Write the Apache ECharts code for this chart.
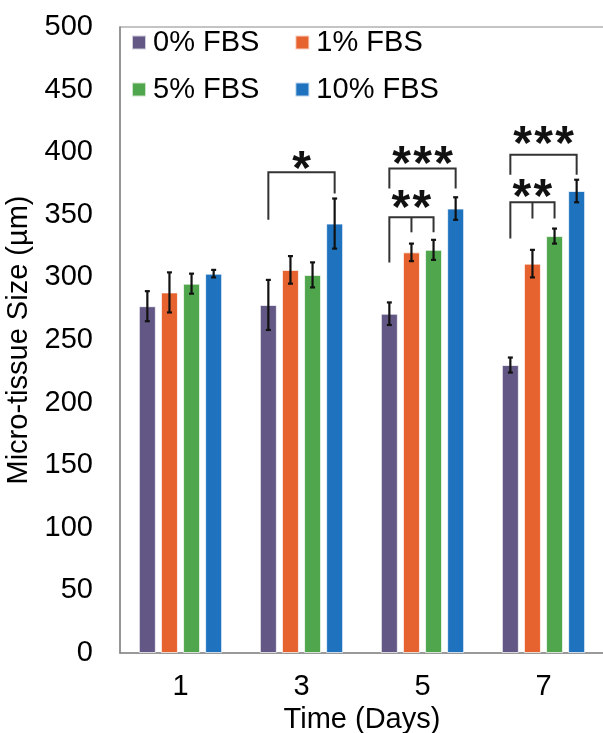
<!DOCTYPE html>
<html>
<head>
<meta charset="utf-8">
<script src="https://cdn.jsdelivr.net/npm/echarts@6/dist/echarts.min.js"></script>
<style>
html,body{margin:0;padding:0;background:#fff;}
#chart{width:603px;height:733px;}
</style>
</head>
<body>
<div id="chart"></div>
<script>
// ---- data ----
var categories = ['1', '3', '5', '7'];
var seriesNames = ['0% FBS', '1% FBS', '5% FBS', '10% FBS'];
var fbs0 = [277, 278, 271, 230];
var fbs1 = [288, 306, 320, 311];
var fbs5 = [295, 302, 322, 333];
var fbs10 = [303, 343, 355, 369];
var err0 = [12, 20, 9, 6];
var err1 = [16, 11, 7, 11];
var err5 = [8, 10, 8, 6];
var err10 = [3, 20, 9, 9];
var yTicks = [0, 50, 100, 150, 200, 250, 300, 350, 400, 450, 500];
// brackets: [category index, left series, right series, middle series (-1 none), bracket top, left leg end, right leg end, middle leg end, star centre]
var brackets = [
  [1, 0, 3, -1, 384, 346, 367, 0, 392],
  [2, 0, 3, -1, 387, 371, 371, 0, 396],
  [2, 0, 2, 1, 348, 312, 336, 336, 361],
  [3, 0, 3, -1, 398, 382, 382, 0, 412],
  [3, 0, 2, 1, 360, 331, 347, 347, 370]
];
var bracketStars = ['*', '***', '**', '***', '**'];

// ---- styles ----
var colors = ['#635885', '#E6632F', '#4FA64C', '#1F73BE'];
var BAR_W = 17, GAP_RATIO = 0.3;
var FONT = 'Liberation Sans, Arial, sans-serif';
var STAR_PITCH = 21;
var values = [fbs0, fbs1, fbs5, fbs10];
var errs = [err0, err1, err5, err10];

function barOffset(s) {
  return (s - 1.5) * BAR_W * (1 + GAP_RATIO);
}

var series = [];
seriesNames.forEach(function (name, s) {
  series.push({
    name: name,
    type: 'bar',
    data: values[s],
    barWidth: BAR_W,
    barGap: (GAP_RATIO * 100) + '%',
    itemStyle: { color: colors[s], borderColor: 'rgba(255,255,255,0.7)', borderWidth: 1 },
    z: 2
  });
});
seriesNames.forEach(function (name, s) {
  series.push({
    type: 'custom',
    name: 'err' + s,
    z: 5,
    data: values[s].map(function (v, i) { return [i, v, errs[s][i]]; }),
    renderItem: function (params, api) {
      var c = api.value(0), v = api.value(1), e = api.value(2);
      var x = api.coord([c, v])[0] + barOffset(s);
      var yHi = api.coord([c, v + e])[1];
      var yLo = api.coord([c, v - e])[1];
      var st = { stroke: '#111', lineWidth: 2.2 };
      return {
        type: 'group',
        children: [
          { type: 'line', shape: { x1: x, y1: yHi, x2: x, y2: yLo }, style: st },
          { type: 'line', shape: { x1: x - 2.5, y1: yHi, x2: x + 2.5, y2: yHi }, style: st },
          { type: 'line', shape: { x1: x - 2.5, y1: yLo, x2: x + 2.5, y2: yLo }, style: st }
        ]
      };
    },
    silent: true,
    tooltip: { show: false }
  });
});
series.push({
  type: 'custom',
  name: 'sig',
  z: 6,
  data: brackets,
  renderItem: function (params, api) {
    var c = api.value(0);
    var sL = api.value(1), sR = api.value(2), sM = api.value(3);
    var cx = api.coord([c, 0])[0];
    var xL = cx + barOffset(sL), xR = cx + barOffset(sR);
    var yTop = api.coord([c, api.value(4)])[1];
    var yL = api.coord([c, api.value(5)])[1];
    var yR = api.coord([c, api.value(6)])[1];
    var yStar = api.coord([c, api.value(8)])[1];
    var st = { stroke: '#333', lineWidth: 2, fill: null };
    var children = [
      { type: 'polyline', shape: { points: [[xL, yL], [xL, yTop], [xR, yTop], [xR, yR]] }, style: st }
    ];
    if (sM >= 0) {
      var xM = cx + barOffset(sM);
      var yM = api.coord([c, api.value(7)])[1];
      children.push({ type: 'line', shape: { x1: xM, y1: yTop, x2: xM, y2: yM }, style: st });
    }
    var stars = bracketStars[params.dataIndex];
    var n = stars.length;
    var xc = (xL + xR) / 2;
    for (var k = 0; k < n; k++) {
      children.push({
        type: 'text',
        style: {
          text: stars.charAt(k),
          x: xc + (k - (n - 1) / 2) * STAR_PITCH,
          y: yStar + 9,
          align: 'center',
          verticalAlign: 'middle',
          font: 'bold 48px ' + FONT,
          fill: '#111'
        }
      });
    }
    return { type: 'group', children: children };
  },
  silent: true
});

var legendText = { fontSize: 29, fontFamily: FONT, color: '#000', padding: [0, 0, 0, 2] };
var chart = echarts.init(document.getElementById('chart'), null, { renderer: 'canvas' });
chart.setOption({
  animation: false,
  backgroundColor: '#fff',
  color: colors,
  grid: {
    left: 120, top: 27, width: 484, height: 626,
    outerBoundsMode: 'none',
    containLabel: false,
    show: true, borderColor: '#8a8a8a', borderWidth: 1.2
  },
  legend: [
    {
      data: ['0% FBS', '1% FBS'],
      left: 131, top: 28, padding: 0, itemWidth: 14, itemHeight: 14, itemGap: 35,
      icon: 'rect', textStyle: legendText
    },
    {
      data: ['5% FBS', '10% FBS'],
      left: 131, top: 75, padding: 0, itemWidth: 14, itemHeight: 14, itemGap: 35,
      icon: 'rect', textStyle: legendText
    }
  ],
  xAxis: {
    type: 'category',
    data: categories,
    name: 'Time (Days)',
    nameLocation: 'middle',
    nameGap: 47,
    nameTextStyle: { fontSize: 29, fontFamily: FONT, color: '#000' },
    axisLine: { lineStyle: { color: '#8a8a8a', width: 1.5 } },
    axisTick: { show: false },
    axisLabel: { fontSize: 29, fontFamily: FONT, color: '#000', margin: 19 }
  },
  yAxis: {
    type: 'value',
    min: yTicks[0],
    max: yTicks[yTicks.length - 1],
    interval: yTicks[1] - yTicks[0],
    name: 'Micro-tissue Size (µm)',
    nameLocation: 'middle',
    nameGap: 80,
    nameTextStyle: { fontSize: 29, fontFamily: FONT, color: '#000' },
    axisLine: { show: true, lineStyle: { color: '#8a8a8a', width: 1.5 } },
    axisTick: { show: false },
    splitLine: { show: false },
    axisLabel: { fontSize: 29, fontFamily: FONT, color: '#000', margin: 27 }
  },
  series: series
});
</script>
</body>
</html>
